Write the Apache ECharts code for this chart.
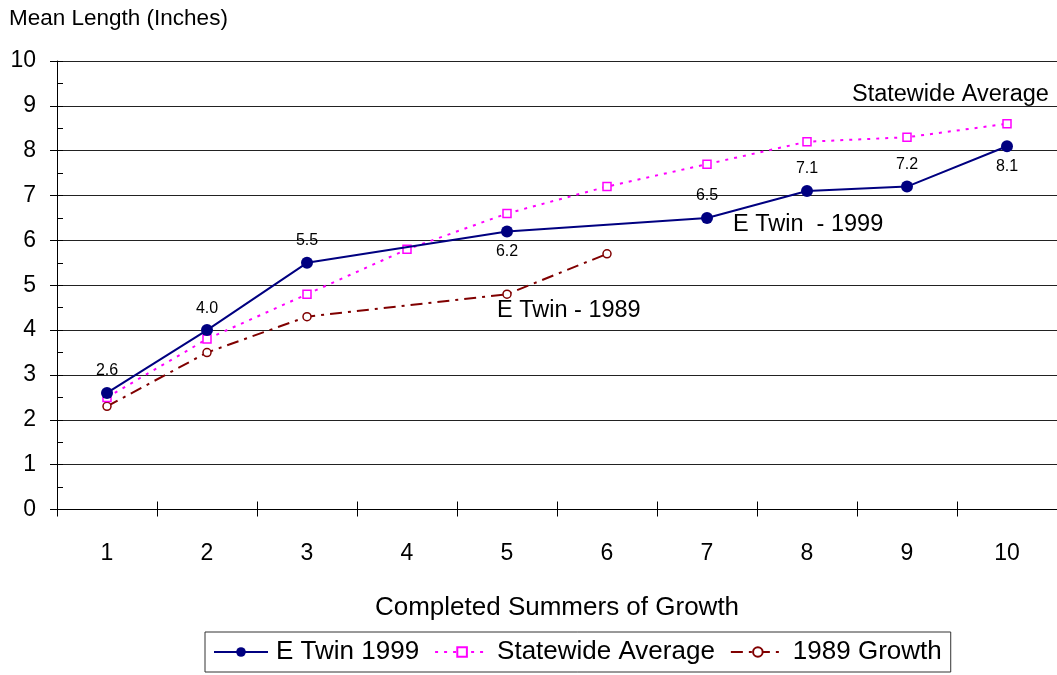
<!DOCTYPE html>
<html>
<head>
<meta charset="utf-8">
<script src="https://cdn.jsdelivr.net/npm/echarts@6/dist/echarts.min.js"></script>
<style>
  html, body { margin: 0; padding: 0; background: #fff; }
  #chart { width: 1057px; height: 675px; }
</style>
</head>
<body>
<div id="chart"></div>
<script>
// Completed summers of growth (x categories)
const summers = ['1', '2', '3', '4', '5', '6', '7', '8', '9', '10'];
// Mean length in inches
const eTwin1999 = [2.6, 4.0, 5.5, null, 6.2, null, 6.5, 7.1, 7.2, 8.1];
const statewideAvg = [2.5, 3.8, 4.8, 5.8, 6.6, 7.2, 7.7, 8.2, 8.3, 8.6];
const growth1989 = [2.3, 3.5, 4.3, null, 4.8, 5.7, null, null, null, null];
// Which E Twin 1999 labels sit beneath their point
const labelsBelow = [4, 9];

const font = 'Liberation Sans, Arial, sans-serif';
const chart = echarts.init(document.getElementById('chart'));

function note(text, x, y, size) {
  return {
    type: 'text', x: x, y: y, z: 10,
    style: { text: text, fill: '#000', font: size + 'px ' + font, verticalAlign: 'middle', align: 'left' }
  };
}

chart.setOption({
  animation: false,
  backgroundColor: '#fff',
  textStyle: { fontFamily: font },
  grid: { left: 57, right: 0, top: 61, bottom: 165.5 },
  xAxis: [
    {
      type: 'category', data: summers, boundaryGap: true,
      axisLine: { lineStyle: { color: '#000', width: 1 } },
      axisTick: { show: true, length: 7, lineStyle: { color: '#000' } },
      axisLabel: { color: '#000', fontSize: 23, margin: 33, fontFamily: font },
      name: 'Completed Summers of Growth', nameLocation: 'middle', nameGap: 85,
      nameTextStyle: { color: '#000', fontSize: 26, fontFamily: font },
      splitLine: { show: false }
    },
    {
      type: 'category', data: summers, boundaryGap: true, position: 'bottom',
      axisLine: { show: false },
      axisTick: { show: true, inside: true, length: 8, lineStyle: { color: '#000' } },
      axisLabel: { show: false }, splitLine: { show: false }
    }
  ],
  yAxis: [
    {
      type: 'value', min: 0, max: 10, interval: 1,
      axisLine: { show: true, lineStyle: { color: '#000', width: 1 } },
      axisTick: { show: true, length: 7, lineStyle: { color: '#000' } },
      axisLabel: { color: '#000', fontSize: 23, margin: 21, fontFamily: font },
      splitLine: { show: true, lineStyle: { color: '#222', width: 1 } }
    },
    {
      type: 'value', min: 0, max: 10, interval: 0.5, position: 'left',
      axisLine: { show: false },
      axisTick: { show: true, inside: true, length: 6, lineStyle: { color: '#000' } },
      axisLabel: { show: false }, splitLine: { show: false }
    }
  ],
  legend: {
    left: 205, top: 632, width: 800,
    data: ['E Twin 1999', 'Statewide Average', '1989 Growth'],
    itemWidth: 54, itemHeight: 12, itemGap: 15,
    padding: [7, 9, 7, 8],
    borderColor: '#333', borderWidth: 1,
    textStyle: { color: '#000', fontSize: 26, fontFamily: font, padding: [0, 0, 0, 3] }
  },
  series: [
    {
      name: 'E Twin 1999', type: 'line', data: eTwin1999, connectNulls: true,
      symbol: 'circle', symbolSize: 12, z: 5,
      itemStyle: { color: '#000080' },
      lineStyle: { color: '#000080', width: 2 },
      label: {
        show: true, position: 'top', distance: 8, color: '#000', fontSize: 16, fontFamily: font,
        formatter: p => p.value == null ? '' : p.value.toFixed(1)
      },
      labelLayout: p => labelsBelow.includes(p.dataIndex) ? { dy: 42 } : {}
    },
    {
      name: 'Statewide Average', type: 'line', data: statewideAvg,
      symbol: 'rect', symbolSize: 8, z: 4,
      itemStyle: { color: '#fff', borderColor: '#FF00FF', borderWidth: 1.5 },
      lineStyle: { color: '#FF00FF', width: 2, type: [3, 6] }
    },
    {
      name: '1989 Growth', type: 'line', data: growth1989, connectNulls: true,
      symbol: 'circle', symbolSize: 8, z: 3,
      itemStyle: { color: '#fff', borderColor: '#800000', borderWidth: 1.5 },
      lineStyle: { color: '#800000', width: 2, type: [12, 6, 3, 6] }
    }
  ],
  graphic: [
    note('Mean Length (Inches)', 9, 19, 22.5),
    note('Statewide Average', 852, 95, 23.5),
    note('E Twin  - 1999', 733, 225, 23.5),
    note('E Twin - 1989', 497, 311, 23.5)
  ]
});
</script>
</body>
</html>
